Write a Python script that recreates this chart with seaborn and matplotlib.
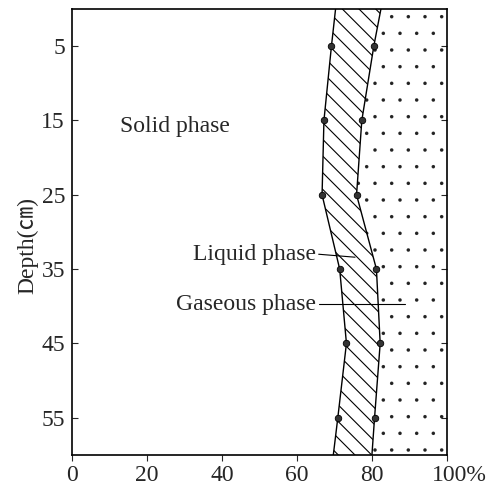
import matplotlib
matplotlib.use("Agg")
import matplotlib.pyplot as plt
import matplotlib.transforms as mtransforms
import seaborn as sns
import pandas as pd

# ---------------------------------------------
# data (percent of volume)
# ---------------------------------------------
depth = [0, 5, 15, 25, 35, 45, 55, 60]
solid_edge = [70.3, 69.2, 67.2, 66.7, 71.4, 73.2, 70.9, 69.7]    # solid | liquid
liquid_edge = [82.4, 80.5, 77.3, 75.9, 81.2, 82.2, 80.7, 80.0]   # liquid | gas
sample_depth = [5, 15, 25, 35, 45, 55]
x_ticks = [0, 20, 40, 60, 80, 100]
x_labels = ["0", "20", "40", "60", "80", "100%"]
y_ticks = [5, 15, 25, 35, 45, 55]

df = pd.DataFrame({"depth": depth, "solid": solid_edge, "liquid": liquid_edge})
pts = df[df["depth"].isin(sample_depth)]

sns.set_style("white")
plt.rcParams["font.family"] = ["Liberation Serif", "Noto Sans CJK JP", "DejaVu Sans"]

fig = plt.figure(figsize=(4.94, 4.86), dpi=100)
ax = fig.add_axes([0.1457, 0.064, 0.759, 0.9175])

# phase areas (hatch width is taken when the artist is made)
with plt.rc_context({"hatch.linewidth": 0.8}):
    ax.fill_betweenx(df["depth"], df["solid"], df["liquid"], facecolor="none",
                     edgecolor="black", hatch="\\\\", linewidth=0)
with plt.rc_context({"hatch.linewidth": 0.1}):
    gas = ax.fill_betweenx(df["depth"], df["liquid"], 100, facecolor="none",
                           edgecolor="#222222", hatch=".", linewidth=0)
if hasattr(gas, "set_hatch_linewidth"):
    gas.set_hatch_linewidth(0.1)

# boundary lines and sample points
for col in ["solid", "liquid"]:
    sns.lineplot(data=df, x=col, y="depth", orient="y", sort=False,
                 color="black", linewidth=1.0, ax=ax)
    sns.scatterplot(data=pts, x=col, y="depth", color="#333333",
                    edgecolor="black", s=22, linewidth=0.6, ax=ax, zorder=5)

ax.set_xlim(0, 100)
ax.set_ylim(60, 0)
ax.set_xticks(x_ticks)
ax.set_xticklabels(x_labels, fontsize=17)
ax.set_yticks(y_ticks)
ax.set_yticklabels([str(v) for v in y_ticks], fontsize=17)
ax.tick_params(axis="y", direction="in", length=4, left=True, right=True, pad=5)
ax.tick_params(axis="x", direction="out", length=4, bottom=True, pad=3)
ax.set_xlabel("")
ax.set_ylabel("Depth(㎝)", fontsize=17)
ax.yaxis.set_label_coords(-0.09, 0.47)
for sp in ax.spines.values():
    sp.set_color("black")
    sp.set_linewidth(1.2)

# "100%" sits with its digits over the tick
last = ax.get_xticklabels()[-1]
last.set_transform(last.get_transform() +
                   mtransforms.ScaledTranslation(0.12, 0, fig.dpi_scale_trans))

# labels
ax.text(12.8, 15.8, "Solid phase", fontsize=17, va="center", ha="left")
ax.text(65.0, 33.0, "Liquid phase", fontsize=17, va="center", ha="right")
ax.plot([65.8, 75.5], [33.0, 33.4], color="black", linewidth=0.8)
ax.text(65.0, 39.7, "Gaseous phase", fontsize=17, va="center", ha="right")
ax.plot([66.0, 88.8], [39.7, 39.7], color="black", linewidth=0.8)

fig.savefig("out.png", dpi=100)
